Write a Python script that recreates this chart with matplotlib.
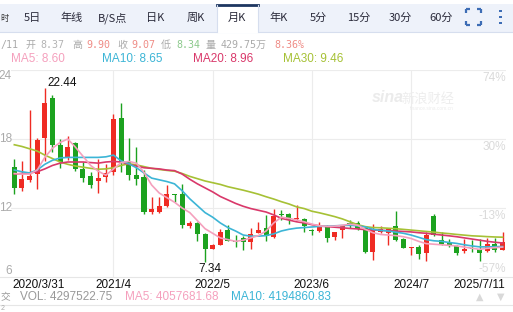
import matplotlib
matplotlib.use('Agg')
import matplotlib.pyplot as plt
import matplotlib.transforms as mtransforms
from matplotlib.patches import Rectangle
import numpy as np

plt.rcParams['font.family'] = ['Liberation Sans', 'Noto Sans CJK SC', 'DejaVu Sans']
plt.rcParams['axes.unicode_minus'] = False

# 月K 数据 2020/3 - 2025/7 (开, 高, 低, 收)
opens = [15.57, 13.77, 14.41, 15.00, 18.12, 21.60, 17.45, 16.43, 17.65, 15.42,
         14.78, 14.32, 14.70, 15.13, 19.83, 16.00, 14.84, 14.70, 11.65, 11.65,
         12.17, 13.20, 13.19, 10.41, 10.73, 9.71, 8.47, 8.80, 10.06, 9.15,
         9.42, 9.04, 9.83, 10.26, 9.48, 11.45, 11.50, 11.02, 11.07, 10.10,
         10.00, 10.35, 9.48, 10.06, 10.73, 10.72, 10.29, 8.17, 9.90, 9.85,
         10.43, 9.33, 8.50, 8.60, 8.09, 11.30, 9.19, 8.93, 8.70, 8.24,
         8.50, 8.47, 8.24, 8.84, 8.37]
highs = [16.29, 16.09, 20.55, 18.10, 22.44, 21.80, 18.03, 18.26, 17.70, 16.00,
         15.13, 16.30, 15.85, 20.20, 21.10, 18.09, 17.30, 15.28, 12.96, 12.96,
         14.03, 13.22, 14.10, 10.85, 10.80, 9.80, 8.85, 10.20, 10.50, 9.68,
         9.60, 10.30, 10.78, 11.36, 11.94, 11.80, 11.55, 12.23, 11.10, 10.20,
         10.78, 10.50, 9.95, 10.55, 10.93, 10.85, 10.40, 10.64, 10.40, 10.30,
         11.74, 9.35, 8.65, 8.80, 9.91, 11.50, 9.91, 9.33, 8.75, 9.33,
         9.20, 9.30, 9.35, 9.40, 9.90]
lows = [13.19, 13.45, 14.30, 13.68, 16.10, 16.87, 15.48, 16.20, 15.19, 14.26,
        13.74, 13.30, 14.26, 14.84, 15.16, 14.41, 14.03, 11.50, 11.50, 11.60,
        12.10, 12.50, 10.30, 10.30, 9.13, 7.34, 8.40, 8.75, 9.10, 8.60,
        8.32, 8.47, 9.80, 9.10, 9.40, 10.99, 10.64, 10.95, 9.91, 9.62,
        9.95, 9.04, 9.25, 9.42, 10.29, 10.10, 8.10, 7.50, 9.80, 8.80,
        9.15, 8.50, 7.94, 7.54, 7.36, 9.60, 8.75, 8.65, 7.94, 8.10,
        8.20, 7.36, 8.20, 8.15, 8.34]
closes = [13.77, 14.55, 14.78, 17.94, 21.16, 17.50, 16.00, 17.30, 15.42, 14.64,
          14.03, 14.60, 15.04, 19.77, 16.03, 14.84, 14.55, 11.65, 11.94, 12.17,
          13.25, 13.10, 10.50, 10.70, 9.77, 8.47, 8.80, 9.91, 9.13, 9.05,
          9.04, 9.77, 10.10, 9.54, 11.30, 11.37, 10.99, 11.13, 10.41, 9.97,
          10.35, 9.42, 9.91, 10.50, 10.58, 10.20, 8.17, 10.20, 10.15, 10.15,
          9.25, 8.55, 8.60, 8.03, 9.68, 9.68, 8.84, 8.67, 8.12, 8.47,
          8.45, 8.09, 8.84, 8.37, 9.07]

ma5 = [15.0, 14.95, 14.95, 15.3, 16.4, 17.2, 17.7, 18.0, 17.3, 16.5,
       15.7, 15.2, 14.85, 15.4, 15.95, 16.05, 15.9, 15.1, 14.0, 13.3,
       12.9, 12.5, 12.0, 11.6, 10.9, 10.2, 9.8, 9.4, 9.25, 9.1,
       9.2, 9.4, 9.6, 10.0, 10.7, 11.2, 11.1, 10.95, 10.8, 10.6,
       10.45, 10.4, 10.42, 10.5, 10.6, 10.5, 10.15, 9.85, 9.7, 9.65,
       9.6, 9.5, 9.35, 9.1, 8.9, 8.85, 8.8, 8.75, 8.7, 8.6,
       8.5, 8.4, 8.5, 8.55, 8.60]
ma10 = [15.3, 15.15, 15.05, 15.3, 15.8, 16.15, 16.35, 16.4, 16.4, 16.4,
        16.4, 16.4, 16.45, 16.6, 16.1, 15.85, 15.5, 15.05, 14.6, 14.45,
        14.3, 14.1, 13.5, 12.8, 12.2, 11.6, 11.2, 10.7, 10.3, 10.0,
        9.65, 9.55, 9.55, 9.6, 9.75, 10.0, 10.15, 10.25, 10.3, 10.35,
        10.4, 10.42, 10.45, 10.48, 10.5, 10.45, 10.35, 10.15, 10.05, 10.0,
        9.9, 9.8, 9.65, 9.45, 9.25, 9.15, 9.1, 9.0, 8.92, 8.8,
        8.7, 8.62, 8.62, 8.64, 8.65]
ma20 = [14.95, 15.0, 15.05, 15.15, 15.4, 15.7, 15.9, 16.0, 16.0, 16.0,
        15.95, 15.9, 16.0, 16.05, 16.0, 15.8, 15.65, 15.5, 15.45, 15.4,
        15.3, 15.25, 14.95, 14.5, 14.1, 13.75, 13.4, 13.0, 12.7, 12.4,
        12.15, 11.95, 11.8, 11.65, 11.4, 11.1, 10.95, 10.8, 10.7, 10.55,
        10.45, 10.38, 10.33, 10.28, 10.22, 10.18, 10.12, 10.08, 10.06, 10.03,
        10.0, 9.96, 9.92, 9.85, 9.8, 9.72, 9.65, 9.58, 9.5, 9.4,
        9.3, 9.2, 9.1, 9.02, 8.96]
ma30 = [17.5, 17.35, 17.15, 16.95, 16.6, 16.3, 16.0, 15.8, 15.65, 15.55,
        15.45, 15.37, 15.4, 15.5, 15.7, 15.85, 15.75, 15.6, 15.45, 15.35,
        15.27, 15.2, 15.0, 14.75, 14.55, 14.35, 14.2, 14.05, 13.85, 13.7,
        13.55, 13.38, 13.2, 12.98, 12.78, 12.55, 12.35, 12.1, 11.95, 11.72,
        11.58, 11.42, 11.25, 11.05, 10.8, 10.55, 10.38, 10.3, 10.28, 10.24,
        10.2, 10.14, 10.08, 10.02, 9.96, 9.9, 9.83, 9.77, 9.7, 9.64,
        9.58, 9.55, 9.51, 9.48, 9.46]

price_ticks = [24, 18, 12, 6]
pct_labels = ['74%', '30%', '-13%', '-57%']
date_idx = [0, 13, 26, 39, 52, 64]
date_labels = ['2020/3/31', '2021/4', '2022/5', '2023/6', '2024/7', '2025/7/11']

tabs = ['5日', '年线', 'B/S点', '日K', '周K', '月K', '年K', '5分', '15分', '30分', '60分']
tab_x = [32, 72, 113, 155, 196, 237, 279, 318, 359, 400, 441]

last_info = {'date': '/11', 'open': '8.37', 'high': '9.90', 'close': '9.07',
             'low': '8.34', 'vol': '429.75万', 'chg': '8.36%'}
vol_text = ['VOL: 4297522.75', 'MA5: 4057681.68', 'MA10: 4194860.83']

RED = '#ef2b23'
GREEN = '#1ca21f'
C5, C10, C20, C30 = '#f5a0bd', '#3cb5d6', '#d9386a', '#a6c135'

fig = plt.figure(figsize=(5.13, 3.12), dpi=100)
ui = fig.add_axes([0, 0, 1, 1])
ui.set_xlim(0, 513)
ui.set_ylim(312, 0)
ui.axis('off')

# 顶部标签栏
ui.add_patch(Rectangle((0, 4), 513, 28, facecolor='#eef2fa', edgecolor='none'))
ui.plot([0, 513], [32, 32], color='#d6deee', lw=0.8)
ui.add_patch(Rectangle((217, 4), 41, 29, facecolor='white', edgecolor='none', zorder=2))
ui.plot([217, 258], [5, 5], color='#1d3660', lw=2, zorder=3)
ui.plot([217, 217], [5, 32], color='#d6deee', lw=0.8, zorder=3)
ui.plot([258, 258], [5, 32], color='#d6deee', lw=0.8, zorder=3)
ui.text(0.5, 18, '时', ha='left', va='center', fontsize=6, color='#333',
        family=['Noto Sans CJK SC'])
for t, x in zip(tabs, tab_x):
    ui.text(x, 18, t, ha='center', va='center', fontsize=8, color='#2a2a3a',
            family=['Noto Sans CJK SC', 'DejaVu Sans'], zorder=4)
# 全屏图标和菜单点
blue = '#3d6db5'
for cx, cy, dx, dy in [(466, 9, 1, 1), (481, 9, -1, 1), (466, 25, 1, -1), (481, 25, -1, -1)]:
    ui.plot([cx, cx + 4 * dx], [cy, cy], color=blue, lw=1.6, solid_capstyle='butt')
    ui.plot([cx, cx], [cy, cy + 4 * dy], color=blue, lw=1.6, solid_capstyle='butt')
for yy in [11, 17, 23]:
    ui.add_patch(Rectangle((499, yy - 1.3), 2.6, 2.6, facecolor=blue, edgecolor='none'))

# 行情信息行
mono = ['DejaVu Sans Mono', 'Noto Sans CJK SC']
cjk = ['Noto Sans CJK SC']
ui.text(0.5, 45, last_info['date'], ha='left', va='center', fontsize=7.2, color='#aaa', family=mono)
info = [('开', 25, '#aaa', cjk), (last_info['open'], 40, '#b4b4b4', mono),
        ('高', 72, '#aaa', cjk), (last_info['high'], 86, '#ef8c86', mono),
        ('收', 117, '#aaa', cjk), (last_info['close'], 131, '#ef8c86', mono),
        ('低', 161, '#aaa', cjk), (last_info['low'], 176, '#8cc98c', mono),
        ('量', 206, '#aaa', cjk), (last_info['vol'], 221, '#aaa', mono),
        (last_info['chg'], 274, '#ef8c86', mono)]
for t, x, c, fam in info:
    ui.text(x, 45, t, ha='left', va='center', fontsize=7.2, color=c, family=fam)

# 均线图例
for name, vals, x, c in [('MA5', ma5, 11, C5), ('MA10', ma10, 102, C10),
                         ('MA20', ma20, 193, C20), ('MA30', ma30, 283, C30)]:
    ui.text(x, 59, f'{name}: {vals[-1]:.2f}', ha='left', va='center', fontsize=8.5, color=c)

# 水印
ui.text(372, 97, 'sina', ha='left', va='center', fontsize=11.5, color='#ebebeb',
        style='italic', weight='bold')
ui.text(401, 99, '新浪财经', ha='left', va='center', fontsize=9.5, color='#ededed',
        family=cjk, style='italic')
ui.text(410, 109, 'finance.sina.com.cn', ha='left', va='center', fontsize=3.5, color='#ededed')

# 分隔线
ui.plot([0, 513], [277, 277], color='#e6e6e6', lw=0.8)
ui.plot([0, 513], [305, 305], color='#e6e6e6', lw=0.8)

# 成交量图例
ui.text(0.5, 297, '交', ha='left', va='center', fontsize=7, color='#999', family=cjk)
for t, x, c in zip(vol_text, [20, 125, 231], ['#999', C5, C10]):
    ui.text(x, 297, t, ha='left', va='center', fontsize=8.5, color=c)
ui.text(480, 297, '▲', ha='center', va='center', fontsize=7, color='#d9d9d9', family=['DejaVu Sans'])
ui.text(501, 297, '▼', ha='center', va='center', fontsize=7, color='#d9d9d9', family=['DejaVu Sans'])
ui.text(3, 311.5, '2', ha='center', va='bottom', fontsize=5, color='#aaa')

# K线主图
ax = fig.add_axes([10.5 / 513, 35 / 312, 495.9 / 513, 207 / 312])
ax.patch.set_alpha(0)
n = len(closes)
xs = np.arange(n)
ax.set_xlim(-0.5, n - 0.5)
ax.set_ylim(6, 24)
for s in ax.spines.values():
    s.set_visible(False)
ax.set_xticks([])
ax.set_yticks([])
for p in price_ticks[:-1]:
    ax.axhline(p, color='#ececec', lw=0.8, zorder=0)
for d in date_idx[1:-1]:
    ax.axvline(d, color='#ececec', lw=0.8, zorder=0)

o = np.array(opens)
c = np.array(closes)
cols = np.where(c >= o, RED, GREEN)
ax.vlines(xs, lows, highs, colors=cols, lw=1.0, zorder=2)
body_h = np.maximum(np.abs(c - o), 0.06)
ax.bar(xs, body_h, bottom=np.minimum(o, c), width=0.66, color=cols, zorder=3)

for vals, col in [(ma30, C30), (ma20, C20), (ma10, C10), (ma5, C5)]:
    ax.plot(xs, vals, color=col, lw=1.2, zorder=4)

imax = int(np.argmax(highs))
imin = int(np.argmin(lows))
ax.text(imax + 0.4, highs[imax] - 0.05, f'{highs[imax]:.2f}', ha='left', va='bottom',
        fontsize=8.5, color='#111')
ax.text(imin + 0.6, lows[imin] - 0.15, f'{lows[imin]:.2f}', ha='center', va='top',
        fontsize=8.5, color='#111')

# 左右刻度
tr_left = mtransforms.blended_transform_factory(ui.transData, ax.transData)
for p, lab in zip(price_ticks, pct_labels):
    va_l = 'top' if p == price_ticks[0] else ('bottom' if p == price_ticks[-1] else 'center')
    ax.text(12, p, str(p), transform=tr_left, ha='right', va=va_l, fontsize=8.5, color='#aaa')
    off = mtransforms.offset_copy(tr_left, fig=fig, x=0, y=(-1.5 if p != price_ticks[-1] else 1.5),
                                  units='points')
    ax.text(506, p, lab, transform=off, ha='right',
            va='top' if p != price_ticks[-1] else 'bottom', fontsize=8.5, color='#dadada')

# 日期标签
tr_date = mtransforms.blended_transform_factory(ax.transData, ui.transData)
for k, (d, lab) in enumerate(zip(date_idx, date_labels)):
    if k == 0:
        ax.text(d - 0.3, 285, lab, transform=tr_date, ha='left', va='center', fontsize=8.5, color='#111')
    elif k == len(date_idx) - 1:
        ax.text(d + 0.4, 285, lab, transform=tr_date, ha='right', va='center', fontsize=8.5, color='#111')
    else:
        ax.text(d, 285, lab, transform=tr_date, ha='center', va='center', fontsize=8.5, color='#111')

fig.savefig('out.png', dpi=100)
